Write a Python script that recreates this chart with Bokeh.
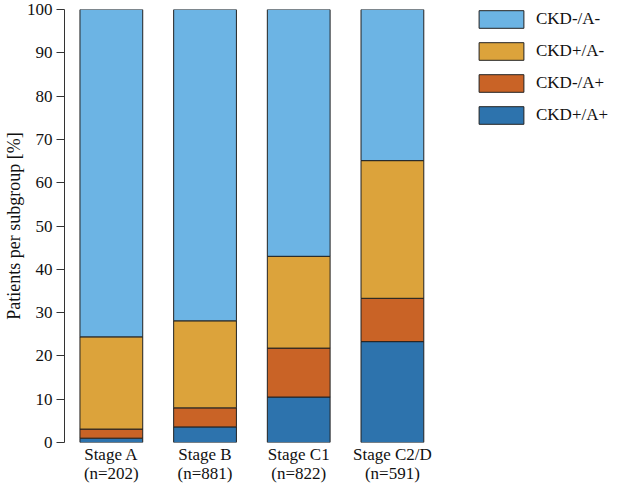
from bokeh.plotting import figure
from bokeh.models import Range1d, FixedTicker, ColumnDataSource, Legend, LegendItem
from bokeh.embed import file_html
from bokeh.resources import INLINE

categories = ["Stage A", "Stage B", "Stage C1", "Stage C2/D"]
n_labels = ["(n=202)", "(n=881)", "(n=822)", "(n=591)"]
series_names = ["CKD+/A+", "CKD-/A+", "CKD+/A-", "CKD-/A-"]  # bottom -> top
ckd_pos_a_pos = [1.0, 3.6, 10.5, 23.3]
ckd_neg_a_pos = [2.1, 4.4, 11.3, 10.0]
ckd_pos_a_neg = [21.3, 20.1, 21.2, 31.8]
ckd_neg_a_neg = [75.6, 71.9, 57.0, 34.9]
colors = ["#2d73ad", "#c96326", "#dca33b", "#6cb4e4"]

x = list(range(1, len(categories) + 1))
data = {"x": x}
for name, vals in zip(series_names, [ckd_pos_a_pos, ckd_neg_a_pos, ckd_pos_a_neg, ckd_neg_a_neg]):
    data[name] = vals
src = ColumnDataSource(data)

FONT = "Liberation Serif"

p = figure(width=613, height=485, output_backend="svg", toolbar_location=None,
           x_range=Range1d(0.50, 6.36), y_range=Range1d(0, 100),
           min_border_left=62, min_border_right=0, min_border_top=9, min_border_bottom=0)
p.outline_line_color = None
p.xgrid.grid_line_color = None
p.ygrid.grid_line_color = None

rends = p.vbar_stack(series_names, x="x", width=0.67, source=src, color=colors,
                     line_color="#222222", line_width=1)

# y axis
p.yaxis.ticker = FixedTicker(ticks=list(range(0, 101, 10)))
p.yaxis.axis_label = "Patients per subgroup [%]"
p.yaxis.axis_label_text_font = FONT
p.yaxis.axis_label_text_font_style = "normal"
p.yaxis.axis_label_text_font_size = "18px"
p.yaxis.axis_label_text_color = "#111111"
p.yaxis.axis_label_standoff = 0
p.yaxis.major_label_text_font = FONT
p.yaxis.major_label_text_font_size = "17px"
p.yaxis.major_label_text_color = "#111111"
p.yaxis.major_label_standoff = 4
p.yaxis.major_tick_out = 8
p.yaxis.major_tick_in = 0
p.yaxis.minor_tick_out = 0
p.yaxis.minor_tick_in = 0
p.yaxis.axis_line_color = "#333333"
p.yaxis.major_tick_line_color = "#333333"

# x axis
p.xaxis.ticker = FixedTicker(ticks=x)
p.xaxis.major_label_overrides = {xi: f"{c}\n{n}" for xi, c, n in zip(x, categories, n_labels)}
p.xaxis.major_label_text_font = FONT
p.xaxis.major_label_text_font_size = "17px"
p.xaxis.major_label_text_line_height = 1.0
p.xaxis.major_label_text_color = "#111111"
p.xaxis.major_label_standoff = 2
p.xaxis.major_tick_out = 0
p.xaxis.major_tick_in = 0
p.xaxis.axis_line_color = None
p.xaxis.major_tick_line_color = None
p.xaxis.minor_tick_line_color = None

items = [LegendItem(label=series_names[i], renderers=[rends[i]]) for i in reversed(range(4))]
legend = Legend(items=items, location=(409, 316), orientation="vertical",
                glyph_width=56, glyph_height=22, spacing=10, label_standoff=7,
                padding=0, margin=0, border_line_color=None, background_fill_alpha=0,
                label_text_font=FONT, label_text_font_size="17px", label_text_color="#111111",
                label_height=22)
p.add_layout(legend, "center")

open("out.html", "w").write(file_html(p, INLINE))
